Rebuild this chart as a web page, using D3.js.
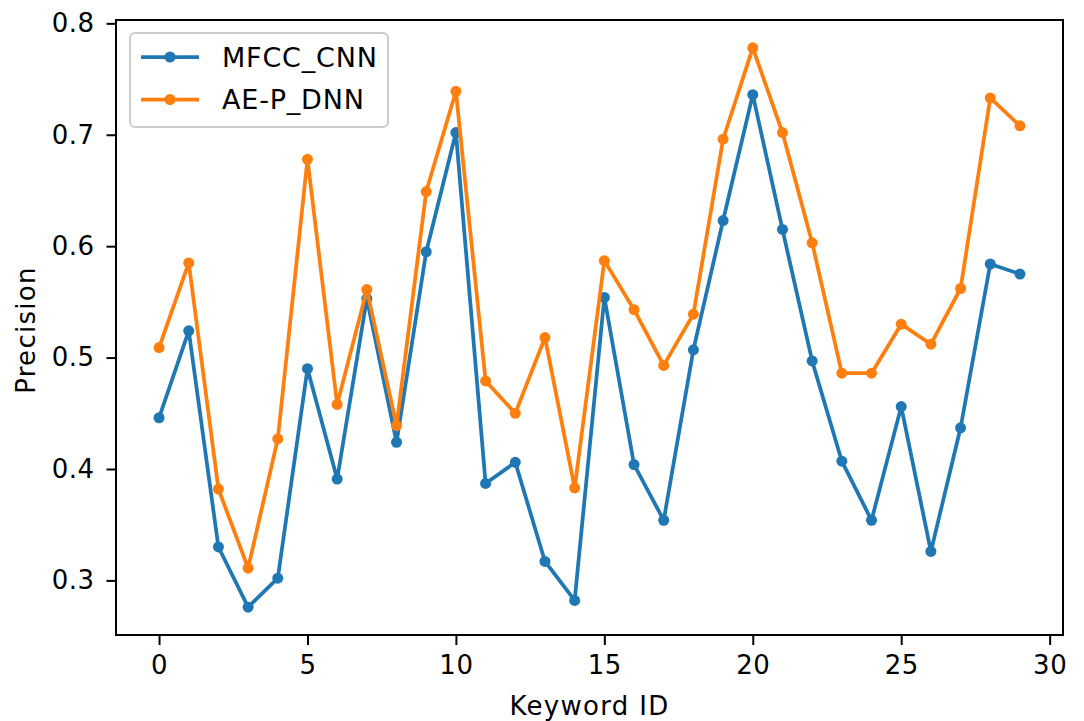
<!DOCTYPE html>
<html>
<head>
<meta charset="utf-8">
<script src="https://cdn.jsdelivr.net/npm/d3@7"></script>
<style>
  body { margin: 0; background: #fff; }
  text { font-family: "DejaVu Sans", sans-serif; }
</style>
</head>
<body>
<script>
var keywordIds = d3.range(30);
var mfccCnn = [0.446, 0.524, 0.330, 0.276, 0.302, 0.490, 0.391, 0.553, 0.424, 0.595,
               0.702, 0.387, 0.406, 0.317, 0.282, 0.554, 0.404, 0.354, 0.507, 0.623,
               0.736, 0.615, 0.497, 0.407, 0.354, 0.456, 0.326, 0.437, 0.584, 0.575];
var aePDnn = [0.509, 0.585, 0.382, 0.311, 0.427, 0.678, 0.458, 0.561, 0.439, 0.649,
              0.739, 0.479, 0.450, 0.518, 0.383, 0.587, 0.543, 0.493, 0.539, 0.696,
              0.778, 0.702, 0.603, 0.486, 0.486, 0.530, 0.512, 0.562, 0.733, 0.708];
var xTicks = [0, 5, 10, 15, 20, 25, 30];
var yTicks = [0.3, 0.4, 0.5, 0.6, 0.7, 0.8];
var seriesNames = ["MFCC_CNN", "AE-P_DNN"];
var colors = ["#1f77b4", "#ff7f0e"];

var w = 1084, h = 721;
var pLeft = 116, pRight = 1063, pTop = 20, pBottom = 635;

var svg = d3.select("body").append("svg")
    .attr("width", w)
    .attr("height", h);

var x = d3.scaleLinear().domain([-1.45, 30.45]).range([pLeft, pRight]);
var y = d3.scaleLinear().domain([0.251, 0.803]).range([pBottom, pTop]);

var series = [mfccCnn, aePDnn];

var line = d3.line()
    .x(function(d, i) { return x(keywordIds[i]); })
    .y(function(d) { return y(d); });

series.forEach(function(s, k) {
  svg.append("path")
    .attr("d", line(s))
    .attr("fill", "none")
    .attr("stroke", colors[k])
    .attr("stroke-width", 3.75)
    .attr("stroke-linejoin", "round")
    .attr("stroke-linecap", "square");
  svg.append("g").selectAll("circle")
    .data(s)
    .enter()
    .append("circle")
    .attr("cx", function(d, i) { return x(keywordIds[i]); })
    .attr("cy", function(d) { return y(d); })
    .attr("r", 5.5)
    .attr("fill", colors[k]);
});

// axes
var xAxis = svg.append("g")
    .attr("transform", "translate(0," + pBottom + ")")
    .call(d3.axisBottom(x).tickValues(xTicks).tickSize(10).tickPadding(11).tickFormat(d3.format("d")));
var yAxis = svg.append("g")
    .attr("transform", "translate(" + pLeft + ",0)")
    .call(d3.axisLeft(y).tickValues(yTicks).tickSize(9.5).tickPadding(12).tickFormat(d3.format(".1f")));

[xAxis, yAxis].forEach(function(a) {
  a.select(".domain").remove();
  a.selectAll(".tick line").attr("stroke", "#000").attr("stroke-width", 2);
  a.selectAll(".tick text")
    .attr("fill", "#000")
    .attr("font-size", "26px")
    .attr("letter-spacing", "0.5px")
    .attr("font-family", "DejaVu Sans, sans-serif");
});

svg.append("rect")
  .attr("x", pLeft)
  .attr("y", pTop)
  .attr("width", pRight - pLeft)
  .attr("height", pBottom - pTop)
  .attr("fill", "none")
  .attr("stroke", "#000")
  .attr("stroke-width", 2);

svg.append("text")
  .attr("x", (pLeft + pRight) / 2)
  .attr("y", 715)
  .attr("text-anchor", "middle")
  .attr("font-size", "26px")
  .attr("letter-spacing", "1.3px")
  .text("Keyword ID");

svg.append("text")
  .attr("transform", "translate(35," + 330 + ") rotate(-90)")
  .attr("text-anchor", "middle")
  .attr("font-size", "26px")
  .attr("letter-spacing", "1.3px")
  .text("Precision");

// legend
var legend = svg.append("g");
legend.append("rect")
  .attr("x", 130)
  .attr("y", 33)
  .attr("width", 258)
  .attr("height", 94)
  .attr("rx", 5)
  .attr("fill", "#fff")
  .attr("fill-opacity", 0.8)
  .attr("stroke", "#cccccc")
  .attr("stroke-width", 2);

var rows = legend.selectAll("g.row")
  .data(seriesNames)
  .enter()
  .append("g")
  .attr("transform", function(d, i) { return "translate(0," + (57 + i * 42.5) + ")"; });
rows.append("line")
  .attr("x1", 141).attr("x2", 199)
  .attr("stroke", function(d, i) { return colors[i]; })
  .attr("stroke-width", 3.75);
rows.append("circle")
  .attr("cx", 170)
  .attr("r", 5.5)
  .attr("fill", function(d, i) { return colors[i]; });
rows.append("text")
  .attr("x", 222)
  .attr("y", 9.5)
  .attr("font-size", "27px")
  .attr("letter-spacing", "0.8px")
  .text(function(d) { return d; });
</script>
</body>
</html>
